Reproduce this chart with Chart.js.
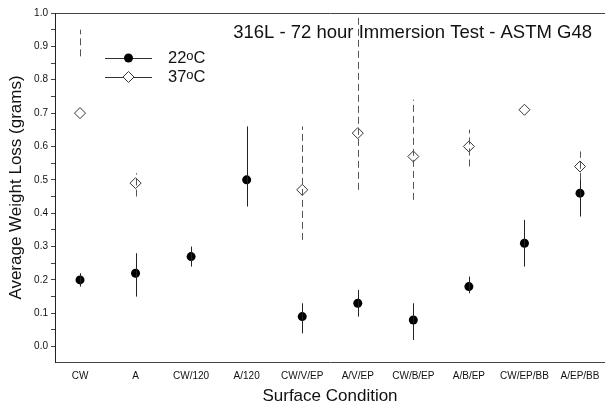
<!DOCTYPE html>
<html lang="en">
<head>
<meta charset="UTF-8" />
<title>316L - 72 hour Immersion Test</title>
<script src="https://cdn.jsdelivr.net/npm/chart.js"></script>
<style>
  body { margin: 0; background: #fff; }
  #wrap { width: 605px; height: 407px; position: relative; }
</style>
</head>
<body>
<div id="wrap"><canvas id="grafica"></canvas></div>
<script>
// surface conditions (x categories)
const categorias = ['CW', 'A', 'CW/120', 'A/120', 'CW/V/EP', 'A/V/EP', 'CW/B/EP', 'A/B/EP', 'CW/EP/BB', 'A/EP/BB'];

// 22oC series: mean and error bar ends
const perdida22 = [0.20, 0.22, 0.27, 0.50, 0.09, 0.13, 0.08, 0.18, 0.31, 0.46];
const bajo22    = [0.18, 0.15, 0.24, 0.42, 0.04, 0.09, 0.02, 0.16, 0.24, 0.39];
const alto22    = [0.22, 0.28, 0.30, 0.66, 0.13, 0.17, 0.13, 0.21, 0.38, 0.52];

// 37oC series
const perdida37 = [0.70, 0.49, null, null, 0.47, 0.64, 0.57, 0.60, 0.71, 0.54];
const bajo37    = [0.87, 0.45, null, null, 0.32, 0.47, 0.44, 0.54, null, 0.50];
const alto37    = [0.95, 0.52, null, null, 0.66, 1.00, 0.74, 0.65, null, 0.585];

// y axis tick labels
const yTicks = [0.0, 0.1, 0.2, 0.3, 0.4, 0.5, 0.6, 0.7, 0.8, 0.9, 1.0];

const FONT = "'Liberation Sans', Arial, Helvetica, sans-serif";

function puntos(valores) {
  return valores.map((v, i) => (v === null ? null : { x: i, y: v })).filter(p => p);
}

const barrasError = {
  id: 'barrasError',
  afterDatasetsDraw(chart) {
    const ctx = chart.ctx;
    const xs = chart.scales.x, ys = chart.scales.y;
    const series = [
      { bajo: bajo22, alto: alto22, color: '#222', dash: [] },
      { bajo: bajo37, alto: alto37, color: '#555', dash: [7, 4] }
    ];
    ctx.save();
    ctx.lineWidth = 1;
    series.forEach(s => {
      ctx.strokeStyle = s.color;
      ctx.setLineDash(s.dash);
      categorias.forEach((c, i) => {
        if (s.bajo[i] === null) return;
        const x = Math.round(xs.getPixelForValue(i)) + 0.5;
        ctx.beginPath();
        ctx.moveTo(x, ys.getPixelForValue(s.bajo[i]));
        ctx.lineTo(x, ys.getPixelForValue(s.alto[i]));
        ctx.stroke();
      });
    });
    ctx.restore();
  }
};

const anotaciones = {
  id: 'anotaciones',
  afterDraw(chart) {
    const ctx = chart.ctx;
    const a = chart.chartArea;
    ctx.save();
    // title inside the plot
    ctx.fillStyle = '#111';
    ctx.font = '18.5px ' + FONT;
    ctx.textAlign = 'right';
    ctx.textBaseline = 'middle';
    ctx.fillText('316L - 72 hour Immersion Test - ASTM G48', a.right - 13, a.top + 20);

    // legend
    const filas = [
      { temp: '22', y: a.top + 45, lleno: true },
      { temp: '37', y: a.top + 64, lleno: false }
    ];
    filas.forEach(f => {
      const x0 = a.left + 50, x1 = a.left + 97, xm = (x0 + x1) / 2;
      ctx.strokeStyle = '#333';
      ctx.lineWidth = 1;
      ctx.setLineDash([]);
      ctx.beginPath();
      ctx.moveTo(x0, f.y + 0.5);
      ctx.lineTo(x1, f.y + 0.5);
      ctx.stroke();
      ctx.beginPath();
      if (f.lleno) {
        ctx.fillStyle = '#000';
        ctx.arc(xm, f.y, 4.5, 0, Math.PI * 2);
        ctx.fill();
      } else {
        ctx.fillStyle = '#fff';
        ctx.moveTo(xm, f.y - 5.5);
        ctx.lineTo(xm + 5.5, f.y);
        ctx.lineTo(xm, f.y + 5.5);
        ctx.lineTo(xm - 5.5, f.y);
        ctx.closePath();
        ctx.fill();
        ctx.stroke();
      }
      ctx.fillStyle = '#111';
      ctx.textAlign = 'left';
      ctx.textBaseline = 'middle';
      let tx = a.left + 113;
      ctx.font = '16.5px ' + FONT;
      ctx.fillText(f.temp, tx, f.y);
      tx += ctx.measureText(f.temp).width;
      ctx.font = '13px ' + FONT;
      ctx.fillText('o', tx, f.y - 2);
      tx += ctx.measureText('o').width;
      ctx.font = '16.5px ' + FONT;
      ctx.fillText('C', tx, f.y);
    });
    ctx.restore();
  }
};

const ticksEnteros = scale => {
  scale.ticks = categorias.map((c, i) => ({ value: i }));
};

new Chart(document.getElementById('grafica'), {
  type: 'scatter',
  data: {
    datasets: [
      {
        label: '22oC',
        data: puntos(perdida22),
        pointStyle: 'circle',
        pointRadius: 4.5,
        backgroundColor: '#000',
        borderColor: '#000',
        borderWidth: 0
      },
      {
        label: '37oC',
        data: puntos(perdida37),
        pointStyle: 'rectRot',
        pointRadius: 5.5,
        backgroundColor: 'rgba(255,255,255,0)',
        borderColor: '#333',
        borderWidth: 1
      }
    ]
  },
  options: {
    responsive: true,
    maintainAspectRatio: false,
    animation: false,
    events: [],
    layout: { autoPadding: false, padding: { top: 13, right: 0, left: 0, bottom: 0 } },
    plugins: {
      legend: { display: false },
      tooltip: { enabled: false }
    },
    scales: {
      x: {
        type: 'linear',
        min: -0.45,
        max: 9.45,
        afterBuildTicks: ticksEnteros,
        afterFit: s => { s.height = 45; s.paddingLeft = 0; s.paddingRight = 0; },
        grid: { display: false, drawTicks: false },
        border: { display: true, color: '#444', width: 1 },
        ticks: {
          padding: 8,
          maxRotation: 0,
          autoSkip: false,
          color: '#111',
          font: { family: FONT, size: 10 },
          callback: v => categorias[v]
        },
        title: {
          display: true,
          text: 'Surface Condition',
          color: '#111',
          font: { family: FONT, size: 17 },
          padding: { top: 0, bottom: 0 }
        }
      },
      x2: {
        type: 'linear',
        position: 'top',
        min: -0.45,
        max: 9.45,
        afterBuildTicks: ticksEnteros,
        afterFit: s => { s.height = 0; s.paddingLeft = 0; s.paddingRight = 0; },
        grid: { display: false, drawTicks: false },
        border: { display: true, color: '#444', width: 1 },
        ticks: { display: false }
      },
      y: {
        min: -0.046,
        max: 1.0,
        afterBuildTicks: scale => {
          const t = [];
          yTicks.forEach((v, i) => {
            t.push({ value: v });
            if (i < yTicks.length - 1) t.push({ value: (v + yTicks[i + 1]) / 2 });
          });
          scale.ticks = t;
        },
        afterFit: s => { s.width = 55; },
        grid: { drawOnChartArea: false, drawTicks: true, tickLength: 4, color: '#444' },
        border: { display: true, color: '#222', width: 1 },
        ticks: {
          padding: 3,
          autoSkip: false,
          color: '#111',
          font: { family: FONT, size: 10 },
          callback: v => {
            const i = yTicks.findIndex(t => Math.abs(t - v) < 1e-6);
            return i >= 0 ? yTicks[i].toFixed(1) : '';
          }
        },
        title: {
          display: true,
          text: 'Average Weight Loss (grams)',
          color: '#111',
          font: { family: FONT, size: 17 },
          padding: { top: 6, bottom: 0 }
        }
      }
    }
  },
  plugins: [barrasError, anotaciones]
});
</script>
</body>
</html>
